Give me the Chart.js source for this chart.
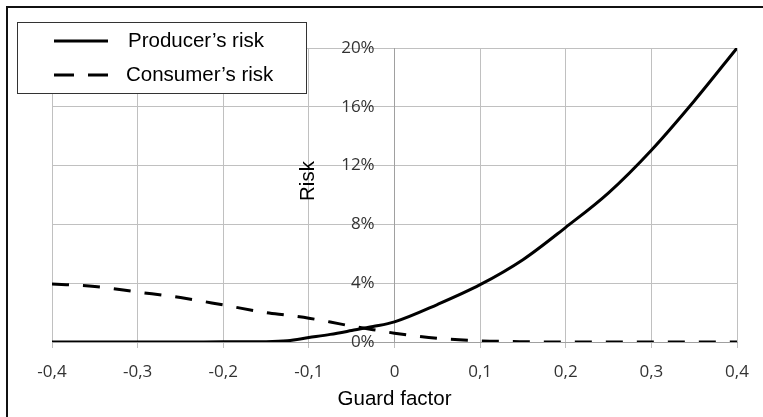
<!DOCTYPE html>
<html>
<head>
<meta charset="utf-8">
<script src="https://cdn.jsdelivr.net/npm/chart.js@4.4.1/dist/chart.umd.min.js"></script>
<style>
  html, body { margin: 0; padding: 0; background: #fff; overflow: hidden; }
  #wrap { position: relative; width: 763px; height: 417px; }
  #frame { position: absolute; left: 6px; top: 6px; width: 800px; height: 500px;
           border-left: 2px solid #111; border-top: 2px solid #111; }
  canvas { position: absolute; left: 0; top: 0; }
</style>
</head>
<body>
<div id="wrap">
  <div id="frame"></div>
  <canvas id="chart" width="763" height="417"></canvas>
</div>
<script>
// ====== DATA ======
const guardFactor = [-0.4, -0.35, -0.3, -0.25, -0.2, -0.15, -0.125, -0.1, -0.075, -0.05, -0.025, 0, 0.05, 0.1, 0.15, 0.2, 0.25, 0.3, 0.35, 0.4];
const producerRisk = [0, 0, 0, 0, 0.01, 0.02, 0.08, 0.3, 0.52, 0.78, 1.05, 1.37, 2.55, 3.9, 5.6, 7.8, 10.15, 13.05, 16.4, 20];
const consumerRisk = [3.95, 3.78, 3.4, 3.02, 2.52, 2.0, 1.82, 1.62, 1.36, 1.08, 0.84, 0.6, 0.25, 0.08, 0.02, 0, 0, 0, 0, 0];
const xTicks = [-0.4, -0.3, -0.2, -0.1, 0, 0.1, 0.2, 0.3, 0.4];
const yTicks = [0, 4, 8, 12, 16, 20];
const seriesNames = ["Producer\u2019s risk", "Consumer\u2019s risk"];
const yTitle = "Risk";
const xTitle = "Guard factor";

const DASH = [17, 14];
const LABEL_FONT = "20.5px 'Liberation Sans', Arial, sans-serif";

function fmtX(v) {
    if (Math.abs(v) < 1e-9) return "0";
    return v.toFixed(1).replace(".", ",");
}

// legend box drawn over the plot + the "Risk" title reading upward
const boxLegend = {
    id: "boxLegend",
    afterDraw(chart) {
        const ctx = chart.ctx;
        const area = chart.chartArea;
        const axisX = chart.scales.x.getPixelForValue(0);
        ctx.save();

        // y title, left of the centre axis labels
        ctx.fillStyle = "#000";
        ctx.font = LABEL_FONT;
        ctx.textAlign = "center";
        ctx.textBaseline = "middle";
        ctx.translate(axisX - 86, (area.top + area.bottom) / 2 - 14);
        ctx.rotate(-Math.PI / 2);
        ctx.fillText(yTitle, 0, 0);
        ctx.rotate(Math.PI / 2);
        ctx.translate(-(axisX - 86), -((area.top + area.bottom) / 2 - 14));

        ctx.fillStyle = "#fff";
        ctx.fillRect(17, 22, 289, 71);
        ctx.strokeStyle = "#333";
        ctx.lineWidth = 1;
        ctx.strokeRect(17.5, 22.5, 289, 71);

        ctx.strokeStyle = "#000";
        ctx.lineWidth = 3;
        ctx.beginPath();
        ctx.moveTo(54, 41);
        ctx.lineTo(108, 41);
        ctx.stroke();

        ctx.setLineDash([20, 14]);
        ctx.beginPath();
        ctx.moveTo(54, 75);
        ctx.lineTo(108, 75);
        ctx.stroke();
        ctx.setLineDash([]);

        ctx.fillStyle = "#000";
        ctx.textAlign = "left";
        ctx.fillText(seriesNames[0], 128, 41);
        ctx.fillText(seriesNames[1], 126, 75);
        ctx.restore();
    }
};

const tickFont = { family: "'Open Sans', sans-serif", size: 17 };
const titleFont = { family: "'Liberation Sans', Arial, sans-serif", size: 20.5 };

new Chart(document.getElementById("chart").getContext("2d"), {
    type: "line",
    data: {
        datasets: [
            {
                label: seriesNames[0],
                data: guardFactor.map((g, i) => ({ x: g, y: producerRisk[i] })),
                borderColor: "#000",
                borderWidth: 3,
                pointRadius: 0,
                cubicInterpolationMode: "monotone",
                fill: false
            },
            {
                label: seriesNames[1],
                data: guardFactor.map((g, i) => ({ x: g, y: consumerRisk[i] })),
                borderColor: "#000",
                borderWidth: 3,
                borderDash: DASH,
                pointRadius: 0,
                cubicInterpolationMode: "monotone",
                fill: false
            }
        ]
    },
    options: {
        responsive: false,
        animation: false,
        layout: { padding: { top: 48, right: 26, left: 52, bottom: 5 } },
        plugins: { legend: { display: false }, tooltip: { enabled: false } },
        scales: {
            x: {
                type: "linear",
                min: -0.4,
                max: 0.4,
                afterBuildTicks: s => { s.ticks = xTicks.map(v => ({ value: v })); },
                ticks: { callback: v => fmtX(v), color: "#333", font: tickFont, padding: 14, maxRotation: 0 },
                grid: { color: "#c0c0c0", lineWidth: 1, tickLength: 6 },
                border: { color: "#a0a0a0" },
                title: { display: true, text: xTitle, color: "#000", font: titleFont, padding: { top: -9, bottom: 0 } }
            },
            y: {
                position: { x: 0 },
                min: 0,
                max: 20,
                afterBuildTicks: s => { s.ticks = yTicks.map(v => ({ value: v })); },
                // labels sit flush on the centre axis, so pad them with spaces
                ticks: { callback: v => v + "%\u2003\u2009", color: "#333", font: tickFont, padding: 12 },
                grid: { color: "#c0c0c0", lineWidth: 1, tickLength: 8 },
                border: { color: "#a0a0a0" },
                title: { display: false }
            }
        }
    },
    plugins: [boxLegend]
});
</script>
</body>
</html>
